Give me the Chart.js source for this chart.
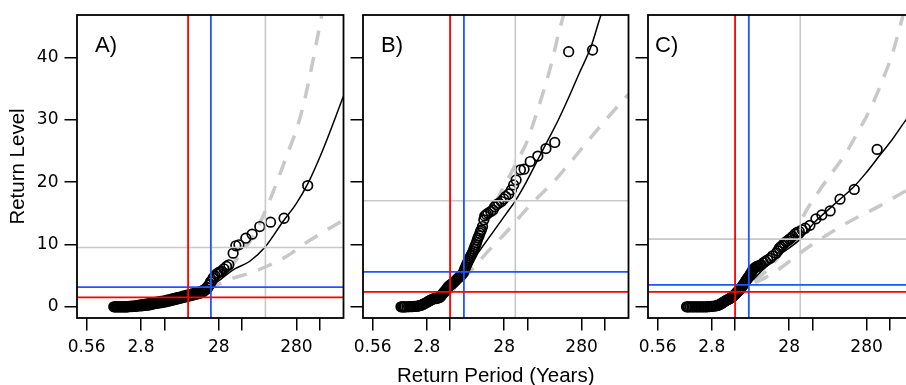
<!DOCTYPE html>
<html>
<head>
<meta charset="utf-8">
<script src="https://cdn.jsdelivr.net/npm/chart.js@4.4.1/dist/chart.umd.min.js"></script>
<style>
  html, body { margin: 0; padding: 0; width: 906px; height: 385px; overflow: hidden; background: #fff; }
  canvas { position: absolute; top: 0; }
</style>
</head>
<body>
<canvas id="cA" width="350" height="395" style="left:0px"></canvas>
<canvas id="cB" width="335" height="395" style="left:300px"></canvas>
<canvas id="cC" width="330" height="395" style="left:590px"></canvas>
<script>
// ---------- axis ticks ----------
const xTicks = [0.56, 2.8, 5.6, 28, 56, 280, 560];
const xTickLabels = ['0.56', '2.8', '', '28', '', '280', ''];
const yTicks = [0, 10, 20, 30, 40];
const panelLabels = ['A)', 'B)', 'C)'];

// ---------- Panel A ----------
const aPeriod = [1.25,1.29,1.33,1.37,1.41,1.45,1.5,1.545,1.59,1.64,
  1.69,1.74,1.79,1.845,1.9,1.96,2.02,2.08,2.14,2.2,
  2.27,2.34,2.41,2.48,2.55,2.63,2.71,2.79,2.88,2.96,
  3.05,3.14,3.24,3.34,3.44,3.54,3.65,3.76,3.87,3.98,
  4.1,4.23,4.36,4.49,4.62,4.76,4.9,5.05,5.2,5.36,
  5.52,5.68,5.85,6.03,6.21,6.4,6.59,6.79,6.99,7.2,
  7.42,7.64,7.87,8.1,8.35,8.6,8.86,9.13,9.4,9.68,
  9.97,10.28,10.6,10.9,11.2,11.55,11.9,12.25,12.6,13,
  13.4,13.8,14.2,14.65,15.1,15.55,16,16.5,17,17.5,
  18,18.55,19.1,19.7,20.3,20.9,21.5,22,22.5,23.7,
  25,26.5,27.5,28.9,30.4,32.6,35.3,37.8,42.9,46.5,
  51,62.5,75.3,94.6,130,194,391];
const aLevel = [0,0,0,0,0,0,0,0,0,0,
  0,0,0,0,0,0.05,0.03,0.1,0.03,0.1,
  0.08,0.15,0.08,0.2,0.11,0.25,0.16,0.3,0.16,0.35,
  0.21,0.4,0.24,0.45,0.27,0.5,0.32,0.55,0.4,0.65,
  0.48,0.7,0.53,0.75,0.59,0.8,0.64,0.85,0.69,0.9,
  0.75,0.95,0.8,1.05,0.88,1.1,0.96,1.2,1.04,1.3,
  1.12,1.35,1.2,1.45,1.28,1.5,1.36,1.6,1.44,1.7,
  1.52,1.75,1.6,1.85,1.68,1.9,1.76,2.0,1.84,2.1,
  1.92,2.15,2.0,2.25,2.08,2.35,2.16,2.45,2.32,2.6,
  2.48,2.8,2.72,3.1,3.04,3.5,3.53,4.0,4.0,4.6,
  4.97,5.29,5.4,5.61,5.66,6.09,6.46,6.73,8.6,9.78,
  9.94,11.0,11.65,12.87,13.57,14.2,19.44];
const aFitPeriod = [2, 2.8, 4, 5.6, 8, 11.3, 16, 21.5, 30, 42.9, 70.3, 110, 188, 280, 394, 614, 1130];
const aFitLevel  = [0.1, 0.3, 0.55, 0.8, 1.1, 1.5, 2.25, 3.2, 4.45, 5.93, 7.3, 9.55, 13.67, 16.6, 19.8, 25.2, 33.8];
const aUpPeriod = [2, 4, 8, 11.3, 16, 21.5, 30, 42.9, 52.3, 76.8, 110, 155, 208, 280, 340, 415, 506, 587, 700];
const aUpLevel  = [0.25, 0.75, 1.45, 1.85, 2.5, 3.5, 5.0, 6.9, 8.3, 11.2, 15.2, 19.8, 24.1, 28.4, 32.1, 36.9, 42.3, 46.5, 52];
const aLoPeriod = [2, 4, 8, 11.3, 16, 21.5, 29, 42.9, 70.3, 115, 208, 376, 680, 1130];
const aLoLevel  = [0, 0.3, 0.8, 1.2, 1.95, 2.9, 3.7, 4.6, 5.4, 6.46, 8.06, 10.3, 12.3, 13.9];
const aRefPeriod = [11.3, 22.2, 111.7];   // red, blue, gray
const aRefLevel  = [1.5, 3.15, 9.5];

// ---------- Panel B ----------
const bPeriod = [1.30,1.345,1.39,1.43,1.47,1.55,1.63,1.69,1.76,1.84,
  1.92,2.0,2.08,2.15,2.23,2.3,2.37,2.45,2.53,2.61,
  2.70,2.82,2.94,3.03,3.13,3.27,3.41,3.55,3.69,3.8,
  3.91,4.03,4.15,4.25,4.34,4.46,4.58,4.7,4.82,4.94,
  5.06,5.18,5.31,5.44,5.58,5.72,5.87,6.01,6.16,6.36,
  6.57,6.85,7.14,7.43,7.73,8.0,8.28,8.49,8.70,8.92,
  9.15,9.37,9.60,9.85,10.1,10.35,10.6,10.85,11.1,11.4,
  11.7,12.0,12.3,12.6,12.9,13.25,13.6,13.9,14.2,14.7,
  15.3,15.7,16.5,17.3,18.8,20.1,21.1,22.2,23.8,25.8,
  27.6,29.3,32.0,34.7,37.1,39.9,45.4,50.6,60.8,76.2,
  97,126,190.6,388];
const bLevel = [0,0,0,0,0,0,0.03,0.02,0.03,0.04,
  0.05,0.08,0.08,0.12,0.16,0.22,0.24,0.34,0.4,0.52,
  0.59,0.74,0.85,0.98,1.04,1.18,1.28,1.33,1.33,1.4,
  1.39,1.48,1.52,1.7,1.84,2.05,2.2,2.38,2.48,2.68,
  2.8,3.04,3.2,3.35,3.45,3.55,3.6,3.72,3.8,4.0,
  4.17,4.42,4.6,4.8,4.97,5.2,5.4,5.75,6.09,6.4,
  6.73,7.0,7.29,7.6,7.85,8.1,8.33,8.6,8.86,9.25,
  9.62,9.95,10.3,10.7,11.06,11.4,11.8,12.1,12.34,12.87,
  13.94,14.58,14.82,15.0,15.3,15.54,16.03,16.35,16.59,16.88,
  17.3,17.68,18.1,18.75,19.55,20.35,21.96,22.07,23.29,24.17,
  25.37,26.36,40.91,41.19];
const bFitPeriod = [2.2, 3.0, 4.15, 5.6, 6.8, 8.45, 11.1, 13.6, 18.2, 23.3, 29.9, 39, 54, 76.2, 102.5, 138, 185, 262, 370, 498, 600];
const bFitLevel  = [0, 0.6, 1.5, 2.4, 3.86, 5.5, 7.54, 9.07, 11.26, 13.1, 14.98, 17.0, 20.0, 23.6, 26.7, 29.8, 33.2, 37.5, 41.7, 46.8, 49.5];
const bUpPeriod = [2.2, 3.0, 4.15, 5.6, 8.45, 10.1, 15.7, 24.5, 36.3, 44.3, 54, 69, 88.4, 113, 145, 175];
const bUpLevel  = [0.1, 0.7, 1.6, 2.6, 6.3, 8.5, 13.0, 18.0, 22.0, 24.1, 26.2, 30.0, 34.2, 38.8, 44.4, 48];
const bLoPeriod = [2.2, 3.0, 4.15, 5.6, 8.45, 11.5, 16.6, 31, 53, 72.6, 119, 195, 319, 577, 1130];
const bLoLevel  = [-0.1, 0.5, 1.4, 2.2, 4.6, 6.4, 8.65, 12.2, 15.5, 17.3, 19.9, 23.0, 26.2, 30.0, 34.1];
const bRefPeriod = [5.6, 8.45, 39];
const bRefLevel  = [2.4, 5.6, 17.0];

// ---------- Panel C ----------
const cPeriod = [1.32,1.365,1.41,1.48,1.55,1.62,1.69,1.77,1.85,1.93,
  2.02,2.11,2.20,2.3,2.41,2.52,2.63,2.75,2.88,3.04,
  3.21,3.32,3.44,3.54,3.65,3.76,3.87,3.95,4.04,4.18,
  4.32,4.47,4.62,4.76,4.90,5.07,5.25,5.38,5.52,5.64,
  5.77,5.9,6.03,6.21,6.40,6.54,6.69,6.84,6.99,7.2,
  7.42,7.61,7.80,7.99,8.18,8.39,8.60,8.79,8.99,9.23,
  9.48,9.72,9.97,10.28,10.6,10.9,11.2,11.7,12.2,13.0,
  13.8,14.8,16.0,17.1,19.0,20.0,20.9,21.8,23.0,24.2,
  25.5,26.7,28.1,29.4,31.0,33.5,35.6,37.8,41.3,45.1,
  51.9,62,74,94.6,127,194,383];
const cLevel = [0,0,0,0,0,0,0,0,0,0,
  0,0,0,0,0,0.02,0.03,0.06,0.08,0.12,
  0.16,0.22,0.27,0.35,0.43,0.54,0.64,0.72,0.8,0.92,
  1.04,1.12,1.2,1.3,1.39,1.52,1.65,1.78,1.92,2.04,
  2.16,2.3,2.44,2.58,2.72,2.84,2.96,3.16,3.37,3.58,
  3.8,4.02,4.25,4.42,4.6,4.78,4.97,5.17,5.37,5.62,
  5.88,6.04,6.2,6.3,6.41,6.49,6.57,6.65,6.73,7.05,
  7.29,7.53,7.77,8.17,8.6,8.97,9.38,9.62,9.86,10.18,
  10.42,10.58,10.82,10.98,11.27,11.7,11.94,12.07,12.34,12.61,
  13.06,14.1,14.74,15.38,17.26,18.83,25.24];
const cFitPeriod = [2.4, 3.5, 4.5, 5.6, 8.43, 12, 20, 38.9, 60, 92, 123, 183, 272, 403, 597, 871, 1130];
const cFitLevel  = [0.1, 1.0, 1.7, 2.4, 3.7, 5.6, 8.1, 10.85, 13.6, 15.7, 17.1, 19.0, 21.4, 24.1, 26.8, 29.7, 31.5];
const cUpPeriod = [2.4, 3.5, 4.5, 5.6, 8.43, 11.6, 15.5, 20.9, 31, 50.8, 71.8, 98.8, 147, 218, 323, 434, 614, 766, 900];
const cUpLevel  = [0.2, 1.1, 1.8, 2.5, 3.8, 4.8, 6.2, 8.2, 11.5, 16.2, 19.0, 21.4, 24.4, 28.1, 32.1, 35.85, 40.9, 45.2, 48.5];
const cLoPeriod = [2.4, 3.5, 4.5, 5.6, 8.43, 13.4, 20.9, 43.8, 83.2, 130, 224, 403, 871, 1130];
const cLoLevel  = [0.0, 0.9, 1.6, 2.3, 3.4, 4.6, 6.1, 9.1, 11.4, 12.9, 14.5, 16.1, 18.5, 19.2];
const cRefPeriod = [5.6, 8.43, 38.9];
const cRefLevel  = [2.4, 3.5, 10.85];

// ---------- helpers ----------
const X_MIN = 0.42, X_MAX = 1130, Y_MIN = -1.8, Y_MAX = 46.8;
const RED = '#ff0000', BLUE = '#1f55ff', LGRAY = '#c8c8c8';
const pts = (xs, ys) => xs.map((x, i) => ({ x: x, y: ys[i] }));

function refSets(per, lev) {
  const cols = [RED, BLUE, LGRAY];
  const out = [];
  per.forEach((p, i) => {
    out.push({ data: [{x: p, y: Y_MIN}, {x: p, y: Y_MAX}], showLine: true, pointRadius: 0,
      borderColor: cols[i], borderWidth: i === 2 ? 1.6 : 1.8, order: i });
    out.push({ data: [{x: X_MIN, y: lev[i]}, {x: X_MAX, y: lev[i]}], showLine: true, pointRadius: 0,
      borderColor: cols[i], borderWidth: i === 2 ? 1.6 : 1.8, order: i });
  });
  return out;
}

const framePlugin = {
  id: 'frame',
  afterDatasetsDraw(chart, args, opts) {
    const { ctx, chartArea: a } = chart;
    ctx.save();
    ctx.strokeStyle = '#000';
    ctx.lineWidth = 1.8;
    ctx.strokeRect(a.left, a.top, a.right - a.left, a.bottom - a.top);
    ctx.fillStyle = '#000';
    ctx.font = '22px "Liberation Sans", Arial, sans-serif';
    ctx.textBaseline = 'middle';
    ctx.textAlign = 'left';
    ctx.fillText(opts.label, a.left + opts.dx, a.top + opts.dy);
    ctx.restore();
  }
};

function makePanel(id, cfg) {
  const tickFont = { family: '"DejaVu Sans", sans-serif', size: 17, lineHeight: 1 };
  const titleFont = { family: '"Liberation Sans", Arial, sans-serif', size: 20.5, lineHeight: 1.2 };
  const datasets = [].concat(
    refSets(cfg.refP, cfg.refL),
    [{ data: pts(cfg.p, cfg.l), pointRadius: 4.8, pointStyle: 'circle', pointBorderColor: '#000',
       pointBackgroundColor: 'rgba(0,0,0,0)', pointBorderWidth: 1.7, showLine: false, order: 3 },
     { data: pts(cfg.fp, cfg.fl), showLine: true, pointRadius: 0, borderColor: '#000', borderWidth: 1.5,
       cubicInterpolationMode: 'monotone', order: 4 },
     { data: pts(cfg.up, cfg.ul), showLine: true, pointRadius: 0, borderColor: LGRAY, borderWidth: 3.5,
       borderDash: [15, 12], cubicInterpolationMode: 'monotone', order: 5 },
     { data: pts(cfg.lp, cfg.ll), showLine: true, pointRadius: 0, borderColor: LGRAY, borderWidth: 3.5,
       borderDash: [15, 12], cubicInterpolationMode: 'monotone', order: 5 }]
  );
  return new Chart(document.getElementById(id), {
    type: 'scatter',
    data: { datasets },
    options: {
      responsive: false, animation: false, events: [],
      layout: { padding: { left: 0, right: 6, top: 15, bottom: 0 } },
      plugins: { legend: { display: false }, tooltip: { enabled: false },
                 frame: { label: cfg.label, dx: cfg.dx, dy: 30.5 } },
      scales: {
        x: {
          type: 'logarithmic', min: X_MIN, max: X_MAX,
          afterBuildTicks: s => { s.ticks = xTicks.map(v => ({ value: v })); },
          afterFit: s => { s.height = 77; },
          ticks: { autoSkip: false, maxRotation: 0, minRotation: 0, padding: 8.5, color: '#000', font: tickFont,
                   callback: (v, i) => xTickLabels[i] },
          grid: { drawOnChartArea: false, drawTicks: true, tickLength: 12.5, color: '#000', lineWidth: 1.5 },
          border: { display: false },
          title: { display: !!cfg.xTitle, text: cfg.xTitle || '', color: '#000', font: titleFont,
                   padding: { top: 0, bottom: 6.5 } }
        },
        y: {
          type: 'linear', min: Y_MIN, max: Y_MAX,
          afterBuildTicks: s => { s.ticks = yTicks.map(v => ({ value: v })); },
          afterFit: s => { s.width = cfg.yw; },
          ticks: { padding: 6, color: '#000', font: tickFont,
                   callback: v => cfg.yLabels ? String(v) : '' },
          grid: { drawOnChartArea: false, drawTicks: true, tickLength: 12.5, color: '#000', lineWidth: 1.5 },
          border: { display: false },
          title: { display: !!cfg.yTitle, text: cfg.yTitle || '', color: '#000', font: titleFont,
                   padding: { top: 6.5, bottom: 0 } }
        }
      }
    },
    plugins: [framePlugin]
  });
}

makePanel('cA', { label: panelLabels[0], dx: 18, yw: 77, yLabels: true, yTitle: 'Return Level',
  p: aPeriod, l: aLevel, fp: aFitPeriod, fl: aFitLevel, up: aUpPeriod, ul: aUpLevel,
  lp: aLoPeriod, ll: aLoLevel, refP: aRefPeriod, refL: aRefLevel });
makePanel('cB', { label: panelLabels[1], dx: 18, yw: 63, yLabels: false, xTitle: 'Return Period (Years)',
  p: bPeriod, l: bLevel, fp: bFitPeriod, fl: bFitLevel, up: bUpPeriod, ul: bUpLevel,
  lp: bLoPeriod, ll: bLoLevel, refP: bRefPeriod, refL: bRefLevel });
makePanel('cC', { label: panelLabels[2], dx: 7, yw: 58, yLabels: false,
  p: cPeriod, l: cLevel, fp: cFitPeriod, fl: cFitLevel, up: cUpPeriod, ul: cUpLevel,
  lp: cLoPeriod, ll: cLoLevel, refP: cRefPeriod, refL: cRefLevel });
</script>
</body>
</html>
